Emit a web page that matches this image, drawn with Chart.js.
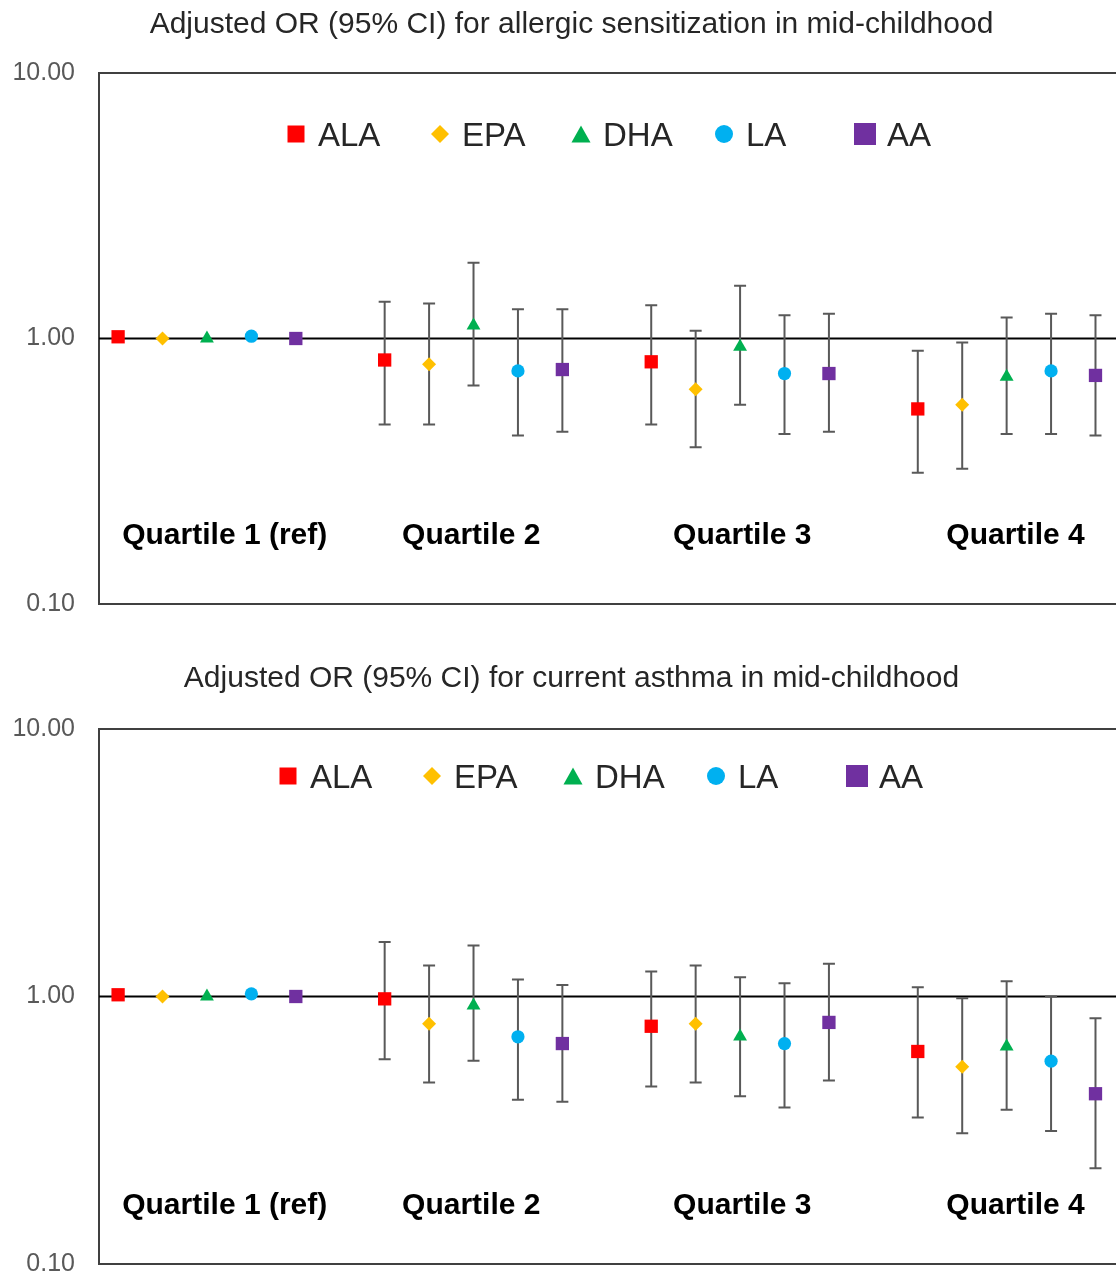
<!DOCTYPE html>
<html>
<head>
<meta charset="utf-8">
<script src="https://cdn.jsdelivr.net/npm/chart.js@4.4.0/dist/chart.umd.min.js"></script>
<style>
  html, body { margin: 0; padding: 0; background: #fff; overflow: hidden; }
  .box { position: absolute; left: 0; width: 1116px; height: 656px; }
</style>
</head>
<body>
<div class="box" style="top:0"><canvas id="sens" width="1116" height="656"></canvas></div>
<div class="box" style="top:656px"><canvas id="asthma" width="1116" height="656"></canvas></div>
<script>
// series and groups
const fattyAcids = ['ALA', 'EPA', 'DHA', 'LA', 'AA'];
const quartiles = ['Quartile 1 (ref)', 'Quartile 2', 'Quartile 3', 'Quartile 4'];
const yTicks = [0.1, 1, 10];

// allergic sensitization: rows = ALA, EPA, DHA, LA, AA ; cols = Q1..Q4
const sensOR = [
  [1.015, 0.83, 0.817, 0.543],
  [1.00, 0.80, 0.644, 0.563],
  [1.00, 1.12, 0.93, 0.717],
  [1.02, 0.755, 0.738, 0.755],
  [1.00, 0.764, 0.738, 0.726]
];
const sensLow = [
  [null, 0.474, 0.474, 0.312],
  [null, 0.474, 0.389, 0.323],
  [null, 0.665, 0.563, 0.437],
  [null, 0.431, 0.437, 0.437],
  [null, 0.445, 0.445, 0.431]
];
const sensHigh = [
  [null, 1.375, 1.335, 0.90],
  [null, 1.355, 1.069, 0.966],
  [null, 1.93, 1.58, 1.20],
  [null, 1.29, 1.224, 1.24],
  [null, 1.29, 1.24, 1.224]
];

// current asthma
const asthOR = [
  [1.015, 0.98, 0.774, 0.623],
  [1.00, 0.791, 0.791, 0.546],
  [1.00, 0.926, 0.709, 0.65],
  [1.023, 0.707, 0.667, 0.573],
  [1.00, 0.667, 0.80, 0.433]
];
const asthLow = [
  [null, 0.583, 0.461, 0.353],
  [null, 0.477, 0.477, 0.308],
  [null, 0.575, 0.424, 0.377],
  [null, 0.411, 0.385, 0.314],
  [null, 0.404, 0.485, 0.228]
];
const asthHigh = [
  [null, 1.60, 1.24, 1.084],
  [null, 1.306, 1.306, 0.986],
  [null, 1.55, 1.181, 1.14],
  [null, 1.158, 1.121, 1.00],
  [null, 1.105, 1.325, 0.829]
];

// styling
const colors = ['#FF0000', '#FFC000', '#00B050', '#00B0F0', '#7030A0'];
const shapes = ['rect', 'rectRot', 'triangle', 'circle', 'rect'];
const radii = [9.4, 7, 8, 6.6, 9.4];
const legendSizes = [17, 18, 19, 18, 22];
const legendOffsets = [0, 144, 285, 428, 569];
const labelSlots = [2.4, 7.95, 14.05, 20.2];
const FONT = '"Liberation Sans", Arial, sans-serif';

function drawMarker(ctx, shape, x, y, s, color) {
  ctx.fillStyle = color;
  ctx.beginPath();
  if (shape === 'rect') {
    ctx.rect(x - s / 2, y - s / 2, s, s);
  } else if (shape === 'rectRot') {
    ctx.moveTo(x, y - s / 2);
    ctx.lineTo(x + s / 2, y);
    ctx.lineTo(x, y + s / 2);
    ctx.lineTo(x - s / 2, y);
    ctx.closePath();
  } else if (shape === 'triangle') {
    ctx.moveTo(x, y - s * 0.45);
    ctx.lineTo(x + s / 2, y + s * 0.45);
    ctx.lineTo(x - s / 2, y + s * 0.45);
    ctx.closePath();
  } else {
    ctx.arc(x, y, s / 2, 0, Math.PI * 2);
  }
  ctx.fill();
}

const forestPlugin = {
  id: 'forest',
  beforeDatasetsDraw(chart) {
    const ctx = chart.ctx;
    const a = chart.chartArea;
    const ys = chart.scales.y;
    ctx.save();
    // frame (left, top, bottom) - right side runs off the page
    ctx.strokeStyle = '#404040';
    ctx.lineWidth = 2;
    ctx.beginPath();
    ctx.moveTo(chart.width, a.top);
    ctx.lineTo(a.left, a.top);
    ctx.lineTo(a.left, a.bottom);
    ctx.lineTo(chart.width, a.bottom);
    ctx.stroke();
    // reference line at OR = 1
    const y1 = ys.getPixelForValue(1);
    ctx.strokeStyle = '#000';
    ctx.beginPath();
    ctx.moveTo(a.left, y1);
    ctx.lineTo(chart.width, y1);
    ctx.stroke();
    // error bars
    ctx.strokeStyle = '#595959';
    ctx.lineWidth = 2;
    chart.data.datasets.forEach((ds, i) => {
      const meta = chart.getDatasetMeta(i);
      meta.data.forEach((pt, j) => {
        const raw = ds.data[j];
        if (raw.lo == null) return;
        const yl = ys.getPixelForValue(raw.lo);
        const yh = ys.getPixelForValue(raw.hi);
        ctx.beginPath();
        ctx.moveTo(pt.x, yl);
        ctx.lineTo(pt.x, yh);
        ctx.moveTo(pt.x - 6, yl);
        ctx.lineTo(pt.x + 6, yl);
        ctx.moveTo(pt.x - 6, yh);
        ctx.lineTo(pt.x + 6, yh);
        ctx.stroke();
      });
    });
    ctx.restore();
  },
  afterDraw(chart) {
    const ctx = chart.ctx;
    const o = chart.options.plugins.forest;
    ctx.save();
    // title
    ctx.fillStyle = '#262626';
    ctx.font = '30px ' + FONT;
    ctx.textAlign = 'center';
    ctx.textBaseline = 'alphabetic';
    ctx.fillText(o.title, 571.5, o.titleY);
    // legend
    fattyAcids.forEach((name, i) => {
      const mx = o.legendX + legendOffsets[i];
      drawMarker(ctx, shapes[i], mx, o.legendY, legendSizes[i], colors[i]);
      ctx.fillStyle = '#262626';
      ctx.font = '33px ' + FONT;
      ctx.textAlign = 'left';
      ctx.fillText(name, mx + 22, o.legendBase);
    });
    // quartile labels
    ctx.fillStyle = '#000';
    ctx.font = 'bold 30px ' + FONT;
    ctx.textAlign = 'center';
    quartiles.forEach((q, g) => {
      ctx.fillText(q, chart.scales.x.getPixelForValue(labelSlots[g]), o.labelY);
    });
    ctx.restore();
  }
};

function makeChart(id, title, orv, lov, hiv, lay) {
  const datasets = fattyAcids.map((name, s) => ({
    label: name,
    data: quartiles.map((q, g) => ({ x: g * 6 + s, y: orv[s][g], lo: lov[s][g], hi: hiv[s][g] })),
    pointStyle: shapes[s],
    pointRadius: radii[s],
    pointBackgroundColor: colors[s],
    pointBorderWidth: 0,
    showLine: false,
    clip: false
  }));
  return new Chart(document.getElementById(id), {
    type: 'scatter',
    data: { datasets },
    plugins: [forestPlugin],
    options: {
      responsive: false,
      animation: false,
      events: [],
      layout: { padding: { top: lay.top, bottom: lay.bottom, left: 0, right: 0 } },
      plugins: {
        legend: { display: false },
        tooltip: { enabled: false },
        forest: Object.assign({ title }, lay)
      },
      scales: {
        x: { type: 'linear', min: -0.43, max: 22.25, display: false },
        y: {
          type: 'logarithmic',
          min: 0.1,
          max: 10,
          afterBuildTicks: sc => { sc.ticks = yTicks.map(v => ({ value: v })); },
          afterFit: sc => { sc.width = 99; },
          grid: { display: false, drawTicks: false },
          border: { display: false },
          ticks: {
            padding: 24,
            color: '#595959',
            font: { family: FONT, size: 25 },
            autoSkip: false,
            callback: v => Number(v).toFixed(2)
          }
        }
      }
    }
  });
}

makeChart('sens', 'Adjusted OR (95% CI) for allergic sensitization in mid-childhood',
  sensOR, sensLow, sensHigh,
  { top: 73, bottom: 52, titleY: 33, legendX: 296, legendY: 134, legendBase: 146, labelY: 544 });

makeChart('asthma', 'Adjusted OR (95% CI) for current asthma in mid-childhood',
  asthOR, asthLow, asthHigh,
  { top: 73, bottom: 48, titleY: 31, legendX: 288, legendY: 120, legendBase: 132, labelY: 558 });
</script>
</body>
</html>
